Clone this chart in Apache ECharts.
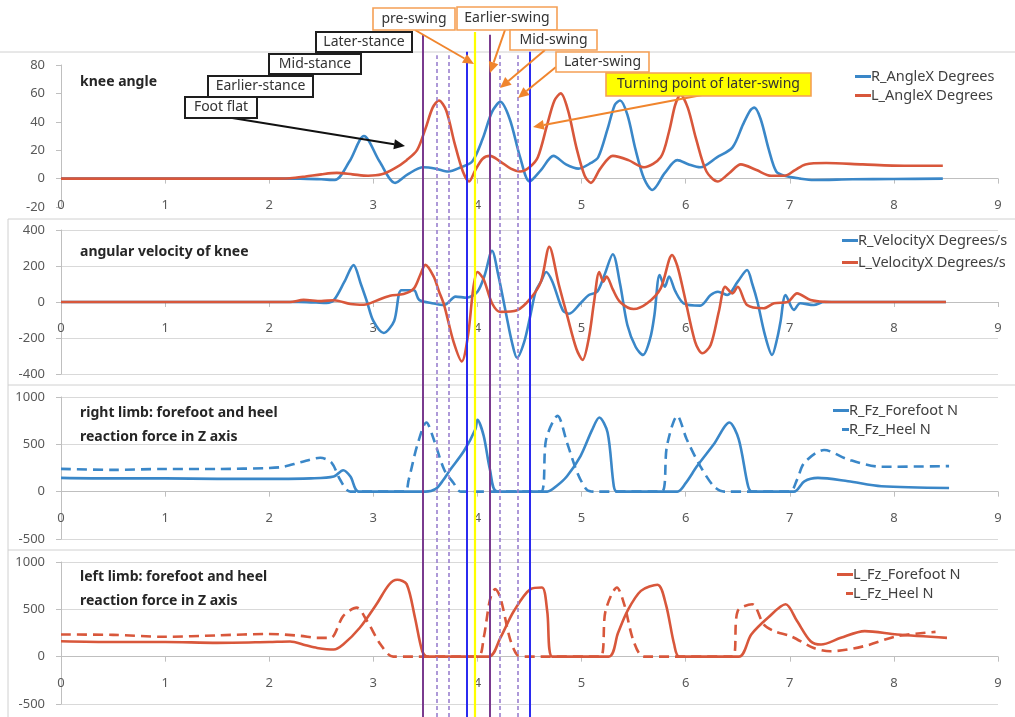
<!DOCTYPE html>
<html>
<head>
<meta charset="utf-8">
<title>knee gait phases</title>
<style>
    html, body { margin: 0; padding: 0; background: #fff; }
    #main { width: 1015px; height: 717px; }
</style>
</head>
<body>
<div id="main"></div>
<script src="https://cdn.jsdelivr.net/npm/echarts@6/dist/echarts.min.js"></script>
<script type="text/javascript">
    // time in seconds, value
    var rAngle = [[0,0],[1,0],[2,0],[2.3,0],[2.5,-0.5],[2.63,-1],[2.77,12],[2.91,30],[3.06,12],[3.21,-3],[3.33,3],[3.48,8],[3.6,7],
        [3.72,5],[3.84,8],[3.95,12],[4.05,28],[4.14,47],[4.22,54],[4.31,42],[4.41,15],[4.5,-2],[4.61,6],[4.73,16],[4.85,10],
        [4.97,7],[5.09,11],[5.16,15],[5.25,35],[5.32,52],[5.37,55],[5.44,45],[5.52,20],[5.6,0],[5.68,-8],[5.8,4],[5.92,13],
        [6.03,10],[6.14,8],[6.3,15],[6.45,22],[6.55,38],[6.62,48],[6.66,50],[6.72,42],[6.8,20],[6.87,5],[6.95,2],[7.1,0],
        [7.23,-1],[7.6,-0.5],[8.0,-0.3],[8.47,0]];
    var lAngle = [[0,0],[1,0],[2,0],[2.2,0.3],[2.35,1.5],[2.5,3],[2.65,4],[2.8,3],[2.95,2],[3.08,3],[3.2,7],[3.32,13],[3.42,20],
        [3.5,35],[3.57,50],[3.63,55],[3.7,48],[3.78,25],[3.86,5],[3.92,-2],[3.98,6],[4.05,14],[4.12,16],[4.22,12],[4.32,7],
        [4.41,5],[4.5,8],[4.58,15],[4.67,38],[4.74,55],[4.8,60],[4.87,48],[4.95,22],[5.03,2],[5.09,-3],[5.18,7],[5.3,16],
        [5.45,13],[5.6,8],[5.76,15],[5.84,33],[5.9,52],[5.95,59],[6.02,50],[6.1,28],[6.2,5],[6.31,-2],[6.42,4],[6.53,10],
        [6.68,6],[6.82,2],[6.95,2],[7.05,6],[7.15,10],[7.35,11],[7.7,10],[8.1,9],[8.47,9]];

    var rVel = [[0,0],[1,0],[2,0],[2.28,0],[2.45,-3],[2.55,-5],[2.62,10],[2.72,110],[2.81,205],[2.88,100],[2.94,0],[3.0,-105],
        [3.1,-172],[3.2,-105],[3.27,65],[3.39,65],[3.44,12],[3.58,-8],[3.68,-17],[3.79,30],[3.9,24],[4.0,57],[4.07,150],
        [4.14,285],[4.2,150],[4.28,-80],[4.33,-220],[4.38,-310],[4.45,-220],[4.51,-70],[4.56,60],[4.61,113],[4.66,167],
        [4.72,113],[4.82,-46],[4.88,-65],[4.99,-7],[5.07,39],[5.15,57],[5.22,150],[5.3,265],[5.37,100],[5.44,-128],
        [5.52,-250],[5.59,-294],[5.66,-200],[5.7,-72],[5.75,150],[5.8,85],[5.84,142],[5.9,60],[5.98,-7],[6.14,-20],
        [6.24,39],[6.31,57],[6.4,39],[6.5,113],[6.59,178],[6.64,100],[6.69,0],[6.76,-180],[6.83,-294],[6.88,-200],
        [6.91,-113],[6.96,39],[7.04,-44],[7.1,-7],[7.23,-17],[7.33,0],[7.6,0],[8.0,0],[8.5,0]];
    var lVel = [[0,0],[1,0],[2,0],[2.2,0],[2.33,12],[2.5,5],[2.62,10],[2.78,-11],[2.91,-15],[3.04,10],[3.16,35],[3.29,44],
        [3.39,76],[3.45,150],[3.5,206],[3.58,141],[3.63,60],[3.68,-17],[3.77,-220],[3.85,-330],[3.91,-183],[3.96,76],
        [4.0,167],[4.06,125],[4.14,-7],[4.22,-55],[4.38,-46],[4.51,20],[4.61,113],[4.69,306],[4.78,100],[4.86,-72],
        [4.95,-260],[5.01,-322],[5.07,-200],[5.12,0],[5.17,167],[5.21,113],[5.24,142],[5.3,70],[5.37,0],[5.5,-39],
        [5.63,-7],[5.76,76],[5.87,261],[5.92,200],[5.98,57],[6.09,-220],[6.16,-285],[6.24,-239],[6.32,-50],[6.38,85],
        [6.45,48],[6.5,85],[6.59,-17],[6.75,-35],[6.85,-7],[6.98,0],[7.07,48],[7.2,11],[7.4,0],[8.0,0],[8.5,0]];

    var rFore = [[0,146],[0.5,140],[1,140],[1.5,135],[2,135],[2.4,140],[2.62,160],[2.71,227],[2.78,160],[2.86,0],[3.5,0],
        [3.6,30],[3.67,120],[3.74,234],[3.87,429],[3.98,660],[4.0,759],[4.06,590],[4.12,234],[4.19,0],[4.67,0],[4.76,60],
        [4.86,163],[4.99,376],[5.1,650],[5.17,784],[5.25,624],[5.31,57],[5.34,0],[5.92,0],[6.0,90],[6.11,270],[6.27,500],
        [6.42,731],[6.51,553],[6.6,57],[6.64,0],[7.04,0],[7.14,110],[7.27,146],[7.56,110],[7.88,57],[8.53,39]];
    var rHeel = [[0,241],[0.5,230],[1,240],[1.5,240],[2,250],[2.14,263],[2.3,310],[2.49,358],[2.6,305],[2.68,128],[2.78,0],
        [3.3,0],[3.34,128],[3.42,482],[3.51,731],[3.58,553],[3.68,234],[3.77,92],[3.84,0],[4.61,0],[4.66,553],[4.77,801],
        [4.86,518],[4.96,199],[5.05,21],[5.12,0],[5.77,0],[5.82,482],[5.92,801],[6.01,553],[6.14,270],[6.27,57],[6.37,0],
        [7.0,0],[7.07,128],[7.14,305],[7.33,440],[7.56,340],[7.88,263],[8.53,270]];

    var lFore = [[0,163],[0.5,155],[1,155],[1.5,146],[2,155],[2.2,160],[2.35,120],[2.46,92],[2.62,75],[2.71,128],[2.87,305],
        [3.03,553],[3.15,760],[3.23,812],[3.32,766],[3.4,411],[3.47,57],[3.52,0],[4.11,0],[4.22,199],[4.35,482],[4.51,713],
        [4.62,730],[4.67,482],[4.72,0],[5.26,0],[5.35,250],[5.44,482],[5.57,695],[5.73,759],[5.81,553],[5.89,128],[5.94,0],
        [6.51,0],[6.63,234],[6.79,411],[6.96,553],[7.07,376],[7.2,163],[7.3,128],[7.49,199],[7.72,270],[8.03,234],[8.51,199]];
    var lHeel = [[0,234],[0.5,230],[1,210],[1.5,225],[2,240],[2.3,220],[2.46,199],[2.59,199],[2.71,429],[2.84,518],[2.94,376],
        [3.07,128],[3.19,0],[4.0,0],[4.06,200],[4.12,600],[4.17,713],[4.22,624],[4.31,199],[4.38,20],[4.45,0],[5.18,0],
        [5.23,482],[5.34,730],[5.41,553],[5.5,163],[5.6,0],[6.45,0],[6.5,482],[6.64,553],[6.75,340],[6.85,270],[7.01,216],
        [7.23,92],[7.39,57],[7.71,110],[8.03,216],[8.4,262]];

    // gait event markers (s) and their kind
    var eventTimes = [3.478, 3.612, 3.727, 3.90, 3.977, 4.121, 4.217, 4.39, 4.505];
    var eventKinds = ['phase', 'sub', 'sub', 'blue', 'yellow', 'phase', 'sub', 'sub', 'blue'];

    var panelTitles = [['knee angle'], ['angular velocity of knee'],
        ['right limb: forefoot and heel', 'reaction force in Z axis'],
        ['left limb: forefoot and heel', 'reaction force in Z axis']];

    var yRanges = [[-20, 80, 20], [-400, 400, 200], [-500, 1000, 500], [-500, 1000, 500]];

    var BLUE = '#3a87c8', RED = '#d8573b', ORANGE = '#f0852d';
    var FONT = '"Noto Sans", "DejaVu Sans", sans-serif';
    var AXIS = '#bfbfbf';

    var eventStyle = {
        phase:  {color: '#7a3b8f', width: 2, type: 'solid', reach: 0.996},
        sub:    {color: '#9a80cf', width: 1.6, type: [4, 3], reach: 0.966},
        blue:   {color: '#2b2bf0', width: 2, type: 'solid', reach: 0.971},
        yellow: {color: '#ffff00', width: 2.2, type: 'solid', reach: 1}
    };

    // annotation boxes: label, box x, y, w, h, look
    var notes = [
        ['Later-stance', 316, 32, 96, 20, 'black'],
        ['Mid-stance', 269, 54, 92, 20, 'black'],
        ['Earlier-stance', 208, 76, 105, 21, 'black'],
        ['Foot flat', 185, 97, 72, 21, 'black'],
        ['pre-swing', 373, 8, 82, 22, 'orange'],
        ['Earlier-swing', 457, 7, 100, 23, 'orange'],
        ['Mid-swing', 510, 30, 87, 20, 'orange'],
        ['Later-swing', 556, 52, 93, 20, 'orange'],
        ['Turning point of later-swing', 606, 73, 205, 23, 'yellow']
    ];
    var arrows = [
        [220, 116, 405, 146, '#111'],
        [415, 30, 474, 64, ORANGE],
        [505, 30, 490, 73, ORANGE],
        [545, 50, 500, 88, ORANGE],
        [556, 67, 518, 98, ORANGE],
        [702, 95, 533, 127, ORANGE]
    ];

    var myChart = echarts.init(document.getElementById('main'));

    var panels = [
        {top: 65, height: 142},
        {top: 230, height: 144},
        {top: 397, height: 142},
        {top: 562, height: 142}
    ];

    var grids = [], xAxes = [], yAxes = [];
    var i;
    for (i = 0; i < 4; i++) {
        grids.push({left: 61, right: 17, top: panels[i].top, height: panels[i].height});
        xAxes.push({type: 'value', gridIndex: i, min: 0, max: 9, interval: 1, show: false});
        yAxes.push({
            type: 'value', gridIndex: i, min: yRanges[i][0], max: yRanges[i][1], interval: yRanges[i][2],
            axisLine: {show: true, lineStyle: {color: AXIS, width: 1}},
            axisTick: {show: true, length: 5, lineStyle: {color: AXIS}},
            axisLabel: {margin: 16, color: '#595959', fontSize: 13, fontFamily: FONT,
                formatter: function (v) { return String(v); }},
            splitLine: {show: i > 0, lineStyle: {color: '#d9d9d9'}}
        });
    }
    // overlay for the gait event lines (grid 4)
    grids.push({left: 61, right: 17, top: 32, bottom: 0});
    xAxes.push({type: 'value', gridIndex: 4, min: 0, max: 9, show: false});
    yAxes.push({type: 'value', gridIndex: 4, min: 0, max: 1, show: false});
    // time axes drawn at value 0 of each panel (grids 5..8)
    for (i = 0; i < 4; i++) {
        var r = yRanges[i];
        var zeroH = panels[i].height * r[1] / (r[1] - r[0]);
        grids.push({left: 61, right: 17, top: panels[i].top, height: zeroH});
        xAxes.push({
            type: 'value', gridIndex: 5 + i, min: 0, max: 9, interval: 1, position: 'bottom',
            axisLine: {show: true, onZero: false, lineStyle: {color: AXIS, width: 1}},
            axisTick: {show: true, length: 5, lineStyle: {color: AXIS}},
            axisLabel: {margin: 20, color: '#595959', fontSize: 13, fontFamily: FONT},
            splitLine: {show: false}
        });
        yAxes.push({type: 'value', gridIndex: 5 + i, min: 0, max: 1, show: false});
    }

    function curve(name, data, idx, color, dashed) {
        return {
            name: name, type: 'line', xAxisIndex: idx, yAxisIndex: idx,
            data: data, smooth: 0.3, symbol: 'none', showSymbol: false, z: 3,
            lineStyle: {color: color, width: 2.6, type: dashed ? [10, 6] : 'solid'},
            itemStyle: {color: color}
        };
    }

    var markData = [];
    for (var k = 0; k < eventTimes.length; k++) {
        var st = eventStyle[eventKinds[k]];
        markData.push([
            {coord: [eventTimes[k], 0], lineStyle: {color: st.color, width: st.width, type: st.type}},
            {coord: [eventTimes[k], st.reach]}
        ]);
    }

    var series = [
        curve('R_AngleX Degrees', rAngle, 0, BLUE),
        curve('L_AngleX Degrees', lAngle, 0, RED),
        curve('R_VelocityX Degrees/s', rVel, 1, BLUE),
        curve('L_VelocityX Degrees/s', lVel, 1, RED),
        curve('R_Fz_Forefoot N', rFore, 2, BLUE),
        curve('R_Fz_Heel N', rHeel, 2, BLUE, true),
        curve('L_Fz_Forefoot N', lFore, 3, RED),
        curve('L_Fz_Heel N', lHeel, 3, RED, true),
        {
            type: 'line', xAxisIndex: 4, yAxisIndex: 4, data: [], z: 5, silent: true,
            markLine: {silent: true, symbol: 'none', label: {show: false}, animation: false, data: markData}
        }
    ];
    for (i = 0; i < 4; i++) {
        series.push({type: 'line', xAxisIndex: 5 + i, yAxisIndex: 5 + i, data: [], silent: true});
    }

    var SOLID_ICON = 'rect';
    var DASH_ICON = 'path://M0,1.45H0.05V1.55H0Z M9,0H16V3H9Z';

    function legendAt(items, left, top, gap) {
        return {
            data: items.map(function (it) {
                return {name: it[0], icon: it[1] ? DASH_ICON : SOLID_ICON};
            }),
            left: left, top: top, orient: 'vertical', itemWidth: 16, itemHeight: 3, itemGap: gap,
            padding: 0, textStyle: {color: '#404040', fontSize: 14.5, fontFamily: FONT, padding: [0, 0, 0, -5]}
        };
    }

    // frame lines, panel titles, annotation boxes and arrows
    var graphics = [];
    [[0, 52], [8, 219], [8, 385], [8, 550]].forEach(function (s) {
        graphics.push({type: 'line', silent: true, z: 1, shape: {x1: s[0], y1: s[1], x2: 1015, y2: s[1]},
            style: {stroke: '#d0d0d0', lineWidth: 1}});
    });
    graphics.push({type: 'line', silent: true, z: 1, shape: {x1: 8, y1: 219, x2: 8, y2: 717},
        style: {stroke: '#d0d0d0', lineWidth: 1}});

    var titleTops = [[82], [252], [413, 437], [577, 601]];
    panelTitles.forEach(function (lines, p) {
        lines.forEach(function (txt, j) {
            graphics.push({type: 'text', z: 20, x: 80, y: titleTops[p][j], silent: true,
                style: {text: txt, fill: '#262626', font: 'bold 14px ' + FONT, verticalAlign: 'middle'}});
        });
    });

    arrows.forEach(function (a) {
        var ang = Math.atan2(a[3] - a[1], a[2] - a[0]), L = 11, W = 5;
        var bx = a[2] - L * Math.cos(ang), by = a[3] - L * Math.sin(ang);
        graphics.push({type: 'line', z: 30, silent: true, shape: {x1: a[0], y1: a[1], x2: bx, y2: by},
            style: {stroke: a[4], lineWidth: 2}});
        graphics.push({type: 'polygon', z: 30, silent: true,
            shape: {points: [[a[2], a[3]], [bx + W * Math.sin(ang), by - W * Math.cos(ang)], [bx - W * Math.sin(ang), by + W * Math.cos(ang)]]},
            style: {fill: a[4]}});
    });

    notes.forEach(function (n) {
        var border = n[5] === 'black' ? '#1e1e1e' : '#f5a055';
        graphics.push({type: 'rect', z: 40, silent: true, shape: {x: n[1], y: n[2], width: n[3], height: n[4]},
            style: {fill: n[5] === 'yellow' ? '#ffff00' : '#ffffff', stroke: border, lineWidth: n[5] === 'black' ? 2 : 1.6}});
        graphics.push({type: 'text', z: 41, silent: true, x: n[1] + n[3] / 2, y: n[2] + n[4] / 2,
            style: {text: n[0], fill: '#333333', font: '14px ' + FONT, align: 'center', verticalAlign: 'middle'}});
    });

    var option = {
        animation: false,
        backgroundColor: '#ffffff',
        grid: grids,
        xAxis: xAxes,
        yAxis: yAxes,
        legend: [
            legendAt([['R_AngleX Degrees'], ['L_AngleX Degrees']], 855, 69, 4),
            legendAt([['R_VelocityX Degrees/s'], ['L_VelocityX Degrees/s']], 842, 233, 7),
            legendAt([['R_Fz_Forefoot N'], ['R_Fz_Heel N', true]], 833, 403, 4),
            legendAt([['L_Fz_Forefoot N'], ['L_Fz_Heel N', true]], 837, 567, 4)
        ],
        series: series,
        graphic: graphics
    };

    myChart.setOption(option);
</script>
</body>
</html>
